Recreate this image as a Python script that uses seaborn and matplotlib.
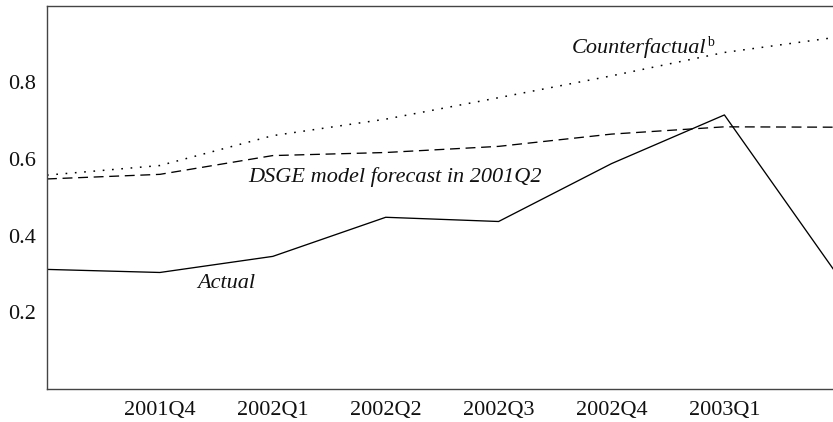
import matplotlib
matplotlib.use("Agg")
import matplotlib.pyplot as plt
import seaborn as sns
import pandas as pd
import numpy as np

quarters = ["2001Q3", "2001Q4", "2002Q1", "2002Q2", "2002Q3", "2002Q4", "2003Q1", "2003Q2"]
tick_labels = ["2001Q4", "2002Q1", "2002Q2", "2002Q3", "2002Q4", "2003Q1"]
actual = [0.312, 0.304, 0.346, 0.448, 0.437, 0.588, 0.715, 0.298]
dsge = [0.548, 0.560, 0.609, 0.617, 0.633, 0.665, 0.684, 0.683]
counterfactual = [0.558, 0.583, 0.661, 0.704, 0.760, 0.817, 0.878, 0.918]
y_ticks = [0.2, 0.4, 0.6, 0.8]

sns.set_style("white")
plt.rcParams["font.family"] = ["Liberation Serif", "DejaVu Serif"]

fig = plt.figure(figsize=(8.33, 4.22), dpi=100)
ax = fig.add_axes([47 / 833, 33 / 422, 790.3 / 833, 383.3 / 422])

idx = np.arange(len(quarters))
df = pd.DataFrame({"q": idx, "actual": actual, "dsge": dsge, "cf": counterfactual})

sns.lineplot(data=df, x="q", y="cf", ax=ax, color="black", linewidth=1.1)
ax.lines[-1].set_dashes((1.1, 5.0))
sns.lineplot(data=df, x="q", y="dsge", ax=ax, color="black", linewidth=0.95)
ax.lines[-1].set_dashes((7.5, 4.3))
sns.lineplot(data=df, x="q", y="actual", ax=ax, color="black", linewidth=0.95)

ax.set_xlim(0, len(quarters) - 1)
ax.set_ylim(0, 1.0)
ax.set_xticks(idx[1:len(tick_labels) + 1])
ax.set_xticklabels(tick_labels)
ax.set_yticks(y_ticks)
ax.set_yticklabels([f"{v:.1f}" for v in y_ticks])
ax.set_xlabel("")
ax.set_ylabel("")

ax.tick_params(axis="both", direction="in", length=5, width=0.8, color="#333333",
               labelsize=16, labelcolor="#111111")
ax.tick_params(axis="x", pad=9)
ax.tick_params(axis="y", pad=8)

for side in ["left", "bottom", "top"]:
    ax.spines[side].set_color("#444444")
    ax.spines[side].set_linewidth(1.0)
ax.spines["right"].set_visible(False)

txt_kw = dict(fontsize=16, style="italic", color="#111111", va="baseline")
ax.text(5.843, 0.876, "Counterfactual", ha="right", **txt_kw)
ax.text(5.848, 0.895, "b", ha="left", va="baseline", fontsize=10, color="#111111")
ax.text(3.082, 0.539, "DSGE model forecast in 2001Q2", ha="center", **txt_kw)
ax.text(1.585, 0.263, "Actual", ha="center", **txt_kw)

fig.savefig("out.png", dpi=100)
